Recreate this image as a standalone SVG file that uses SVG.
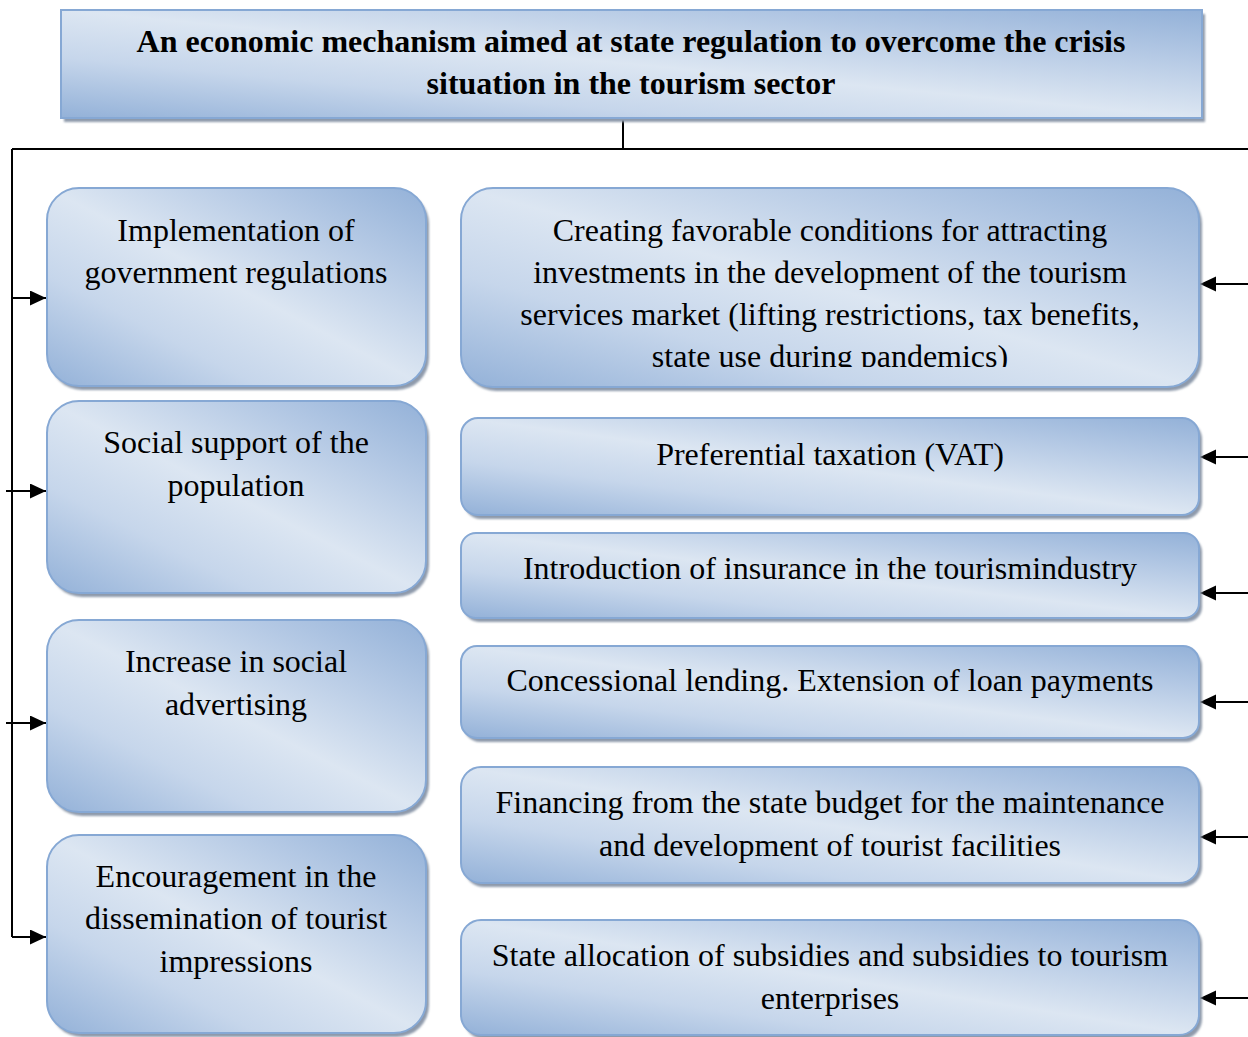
<svg xmlns="http://www.w3.org/2000/svg" width="1248" height="1037" viewBox="0 0 1248 1037">
  <style>
    .box { fill: url(#boxFill); stroke: #86a8d4; stroke-width: 2; }
    .shadow { fill: #8e9aab; filter: url(#soft); }
    .lbl { font-family: "Liberation Serif", "Times New Roman", serif; font-size: 32px; fill: #000; text-anchor: middle; }
    .title { font-weight: bold; }
    .wire { fill: none; stroke: #000; stroke-width: 2; }
  </style>
  <defs>
    <linearGradient id="boxFill" x1="1" y1="0" x2="0" y2="1">
      <stop offset="0" stop-color="#93b1d8"/>
      <stop offset="0.22" stop-color="#b3c8e4"/>
      <stop offset="0.5" stop-color="#dce6f2"/>
      <stop offset="0.72" stop-color="#c6d6eb"/>
      <stop offset="1" stop-color="#93b1d8"/>
    </linearGradient>
    <filter id="soft" x="-5%" y="-5%" width="110%" height="110%">
      <feGaussianBlur stdDeviation="1"/>
    </filter>
    <marker id="arrow" markerUnits="userSpaceOnUse" markerWidth="18" markerHeight="16" refX="16" refY="7.5" orient="auto">
      <path d="M0,0 L16,7.5 L0,15 Z" fill="#000"/>
    </marker>
    <clipPath id="clipR1">
      <rect x="461" y="189" width="739" height="178"/>
    </clipPath>
  </defs>

  <!-- connectors -->
  <g id="connectors">
    <path class="wire" d="M623,118 V149"/>
    <path class="wire" d="M12,149 H1248"/>
    <path class="wire" d="M12,149 V937"/>
    <path class="wire" d="M12,298 H46" marker-end="url(#arrow)"/>
    <path class="wire" d="M6,491 H46" marker-end="url(#arrow)"/>
    <path class="wire" d="M6,723 H46" marker-end="url(#arrow)"/>
    <path class="wire" d="M12,937 H46" marker-end="url(#arrow)"/>
    <path class="wire" d="M1248,284 H1200" marker-end="url(#arrow)"/>
    <path class="wire" d="M1248,457 H1200" marker-end="url(#arrow)"/>
    <path class="wire" d="M1248,593 H1200" marker-end="url(#arrow)"/>
    <path class="wire" d="M1248,702 H1200" marker-end="url(#arrow)"/>
    <path class="wire" d="M1248,837 H1200" marker-end="url(#arrow)"/>
    <path class="wire" d="M1248,998 H1200" marker-end="url(#arrow)"/>
  </g>

  <!-- heading -->
  <g id="node-title">
    <rect class="shadow" x="64" y="14" width="1141" height="108"/>
    <rect class="box" x="61" y="10" width="1141" height="108"/>
    <text class="lbl title" x="631" y="52">An economic mechanism aimed at state regulation to overcome the crisis</text>
    <text class="lbl title" x="631" y="94">situation in the tourism sector</text>
  </g>

  <!-- left column -->
  <g id="node-regulations">
    <rect class="shadow" x="50" y="192" width="379" height="198" rx="32"/>
    <rect class="box" x="47" y="188" width="379" height="198" rx="32"/>
    <text class="lbl" x="236" y="241">Implementation of</text>
    <text class="lbl" x="236" y="283">government regulations</text>
  </g>
  <g id="node-social-support">
    <rect class="shadow" x="50" y="405" width="379" height="192" rx="32"/>
    <rect class="box" x="47" y="401" width="379" height="192" rx="32"/>
    <text class="lbl" x="236" y="453">Social support of the</text>
    <text class="lbl" x="236" y="496">population</text>
  </g>
  <g id="node-advertising">
    <rect class="shadow" x="50" y="624" width="379" height="192" rx="32"/>
    <rect class="box" x="47" y="620" width="379" height="192" rx="32"/>
    <text class="lbl" x="236" y="672">Increase in social</text>
    <text class="lbl" x="236" y="715">advertising</text>
  </g>
  <g id="node-impressions">
    <rect class="shadow" x="50" y="839" width="379" height="198" rx="32"/>
    <rect class="box" x="47" y="835" width="379" height="198" rx="32"/>
    <text class="lbl" x="236" y="887">Encouragement in the</text>
    <text class="lbl" x="236" y="929">dissemination of tourist</text>
    <text class="lbl" x="236" y="972">impressions</text>
  </g>

  <!-- right column -->
  <g id="node-investments">
    <rect class="shadow" x="464" y="192" width="738" height="199" rx="32"/>
    <rect class="box" x="461" y="188" width="738" height="199" rx="32"/>
    <g clip-path="url(#clipR1)">
      <text class="lbl" x="830" y="241">Creating favorable conditions for attracting</text>
      <text class="lbl" x="830" y="283">investments in the development of the tourism</text>
      <text class="lbl" x="830" y="325">services market (lifting restrictions, tax benefits,</text>
      <text class="lbl" x="830" y="367">state use during pandemics)</text>
    </g>
  </g>
  <g id="node-vat">
    <rect class="shadow" x="464" y="422" width="738" height="97" rx="17"/>
    <rect class="box" x="461" y="418" width="738" height="97" rx="17"/>
    <text class="lbl" x="830" y="465">Preferential taxation (VAT)</text>
  </g>
  <g id="node-insurance">
    <rect class="shadow" x="464" y="537" width="738" height="85" rx="15"/>
    <rect class="box" x="461" y="533" width="738" height="85" rx="15"/>
    <text class="lbl" x="830" y="579">Introduction of insurance in the tourismindustry</text>
  </g>
  <g id="node-lending">
    <rect class="shadow" x="464" y="650" width="738" height="92" rx="16"/>
    <rect class="box" x="461" y="646" width="738" height="92" rx="16"/>
    <text class="lbl" x="830" y="691">Concessional lending. Extension of loan payments</text>
  </g>
  <g id="node-budget">
    <rect class="shadow" x="464" y="771" width="738" height="116" rx="20"/>
    <rect class="box" x="461" y="767" width="738" height="116" rx="20"/>
    <text class="lbl" x="830" y="813">Financing from the state budget for the maintenance</text>
    <text class="lbl" x="830" y="856">and development of tourist facilities</text>
  </g>
  <g id="node-subsidies">
    <rect class="shadow" x="464" y="924" width="738" height="115" rx="20"/>
    <rect class="box" x="461" y="920" width="738" height="115" rx="20"/>
    <text class="lbl" x="830" y="966">State allocation of subsidies and subsidies to tourism</text>
    <text class="lbl" x="830" y="1009">enterprises</text>
  </g>
</svg>
